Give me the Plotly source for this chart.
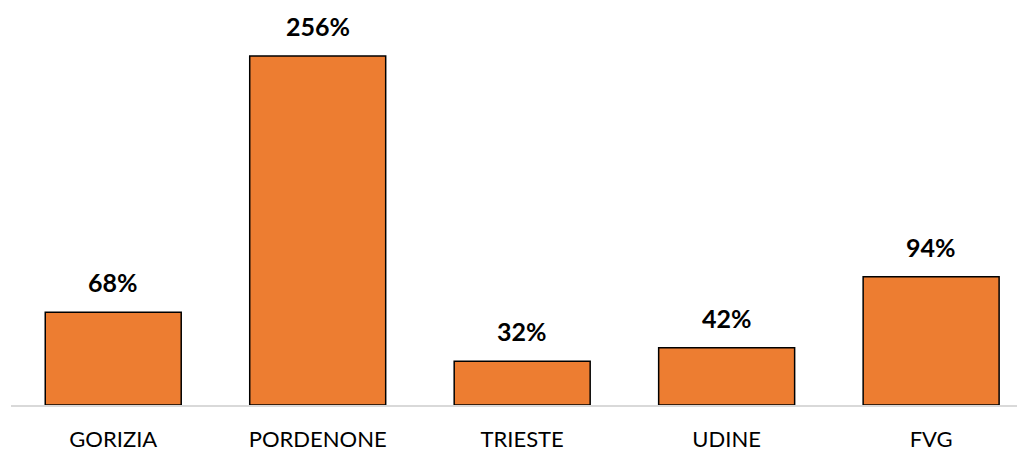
import plotly.graph_objects as go

categories = ["GORIZIA", "PORDENONE", "TRIESTE", "UDINE", "FVG"]
values = [68, 256, 32, 42, 94]
labels = ["68%", "256%", "32%", "42%", "94%"]

fig = go.Figure()
fig.add_trace(go.Bar(
    x=categories, y=values,
    marker=dict(color="#ED7D31", line=dict(color="black", width=1.5)),
    hoverinfo="skip",
))

for c, v, t in zip(categories, values, labels):
    fig.add_annotation(x=c, y=v, text="<b>%s</b>" % t, showarrow=False,
                       yanchor="bottom", yshift=13,
                       font=dict(family="Lato, Open Sans, sans-serif", size=25, color="black"))

fig.update_layout(
    width=1017, height=450,
    margin=dict(l=11, r=0, t=0, b=45),
    plot_bgcolor="white", paper_bgcolor="white",
    bargap=0.335,
    showlegend=False,
    xaxis=dict(range=[-0.5, 4.42], showline=True, linecolor="#D9D9D9", linewidth=1.5,
               showgrid=False, ticks="", ticklabelstandoff=14, automargin=False,
               tickfont=dict(family="Lato, Open Sans, sans-serif", size=22, color="black")),
    yaxis=dict(range=[0, 297], visible=False, showgrid=False),
)

fig.write_html("out.html", config={"displayModeBar": False},
               post_script="document.body.style.margin='0';")
